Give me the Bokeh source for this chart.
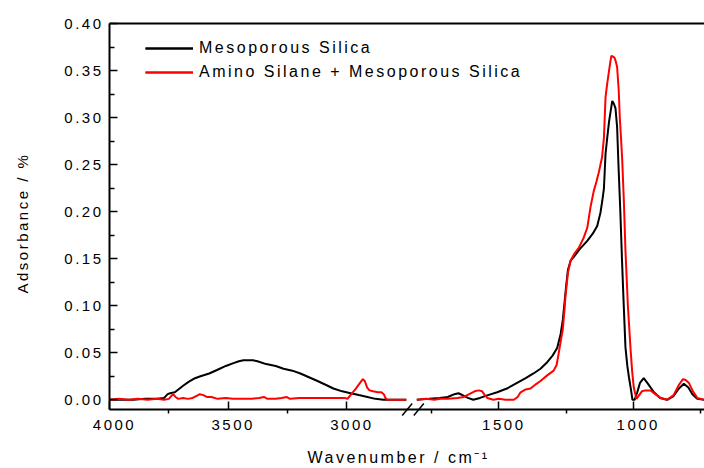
import math
from bokeh.plotting import figure
from bokeh.models import (Range1d, FixedTicker, CustomJSTickFormatter, LinearAxis, Legend,
                          LegendItem, Arrow, PrintfTickFormatter, InlineStyleSheet, Label)
from bokeh.embed import file_html
from bokeh.resources import INLINE

# ---------------- data (wavenumber cm-1, absorbance) ----------------
# Mesoporous Silica, high-wavenumber segment
ms_hi_wn = [4000, 3950, 3900, 3850, 3800, 3770, 3755, 3745, 3725, 3710, 3690, 3667, 3640, 3617,
            3580, 3545, 3510, 3478, 3455, 3436, 3415, 3395, 3377, 3340, 3300, 3267, 3230, 3196,
            3160, 3124, 3090, 3057, 3020, 2985, 2950, 2914, 2880, 2846, 2800, 2750]
ms_hi_abs = [0.000, 0.000, 0.000, 0.001, 0.001, 0.002, 0.006, 0.007, 0.008, 0.011, 0.015, 0.019,
             0.023, 0.025, 0.028, 0.032, 0.036, 0.039, 0.041, 0.042, 0.042, 0.042, 0.041, 0.038,
             0.036, 0.033, 0.031, 0.028, 0.024, 0.020, 0.016, 0.012, 0.009, 0.007, 0.005, 0.003,
             0.001, 0.000, 0.000, 0.000]
# Mesoporous Silica, low-wavenumber segment
ms_lo_wn = [1805, 1760, 1720, 1690, 1665, 1650, 1635, 1615, 1595, 1570, 1540, 1506, 1470, 1432,
            1400, 1371, 1345, 1320, 1300, 1283, 1270, 1262, 1255, 1250, 1243, 1233, 1221, 1200,
            1171, 1150, 1134, 1122, 1115, 1109, 1103, 1097, 1090, 1084, 1078, 1072, 1066, 1060,
            1055, 1048, 1042, 1036, 1029, 1022, 1016, 1008, 1003, 995, 985, 975, 961, 945, 923,
            900, 874, 850, 830, 812, 795, 780, 762, 735]
ms_lo_abs = [0.000, 0.001, 0.002, 0.003, 0.006, 0.007, 0.005, 0.002, 0.000, 0.002, 0.005, 0.008,
             0.012, 0.018, 0.023, 0.028, 0.033, 0.040, 0.047, 0.055, 0.070, 0.085, 0.105, 0.120,
             0.138, 0.148, 0.152, 0.160, 0.169, 0.177, 0.185, 0.199, 0.212, 0.225, 0.262, 0.278,
             0.296, 0.307, 0.318, 0.315, 0.310, 0.290, 0.250, 0.200, 0.150, 0.105, 0.056, 0.036,
             0.024, 0.010, 0.000, 0.000, 0.008, 0.018, 0.023, 0.017, 0.008, 0.002, 0.000, 0.004,
             0.012, 0.017, 0.013, 0.006, 0.001, 0.000]
# Amino Silane + Mesoporous Silica, high-wavenumber segment
am_hi_wn = [4000, 3960, 3920, 3880, 3840, 3800, 3770, 3750, 3740, 3732, 3722, 3710, 3690, 3670,
            3650, 3635, 3620, 3605, 3590, 3570, 3545, 3510, 3480, 3440, 3400, 3370, 3350, 3335,
            3300, 3275, 3255, 3240, 3200, 3150, 3100, 3050, 3010, 2998, 2985, 2965, 2945, 2933,
            2925, 2915, 2905, 2890, 2870, 2855, 2845, 2838, 2830, 2790, 2750]
am_hi_abs = [0.000, 0.001, 0.000, 0.001, 0.000, 0.001, 0.000, 0.001, 0.004, 0.006, 0.003, 0.001,
             0.002, 0.001, 0.002, 0.004, 0.006, 0.005, 0.003, 0.003, 0.001, 0.002, 0.001, 0.001,
             0.001, 0.002, 0.003, 0.001, 0.001, 0.002, 0.003, 0.001, 0.002, 0.002, 0.002, 0.002,
             0.002, 0.001, 0.005, 0.011, 0.018, 0.022, 0.020, 0.013, 0.010, 0.009, 0.008, 0.008,
             0.006, 0.002, 0.000, 0.000, 0.000]
# Amino Silane + Mesoporous Silica, low-wavenumber segment
am_lo_wn = [1805, 1770, 1740, 1717, 1690, 1654, 1630, 1610, 1590, 1575, 1562, 1552, 1543, 1520,
            1500, 1475, 1444, 1430, 1419, 1400, 1382, 1360, 1345, 1320, 1296, 1285, 1277, 1270,
            1262, 1256, 1252, 1243, 1233, 1220, 1202, 1185, 1171, 1159, 1147, 1137, 1128, 1116,
            1109, 1103, 1097, 1091, 1085, 1081, 1075, 1070, 1065, 1060, 1054, 1050, 1045, 1041,
            1035, 1029, 1020, 1010, 1004, 998, 988, 978, 968, 955, 936, 918, 898, 874, 850, 830,
            815, 805, 793, 778, 762, 735]
am_lo_abs = [0.000, 0.001, 0.000, 0.001, 0.001, 0.002, 0.003, 0.006, 0.009, 0.010, 0.009, 0.005,
             0.002, 0.000, 0.001, 0.000, 0.000, 0.003, 0.008, 0.011, 0.012, 0.017, 0.020, 0.026,
             0.031, 0.037, 0.050, 0.062, 0.075, 0.095, 0.110, 0.135, 0.148, 0.155, 0.162, 0.172,
             0.183, 0.205, 0.222, 0.232, 0.242, 0.258, 0.279, 0.322, 0.336, 0.348, 0.360, 0.366,
             0.365, 0.364, 0.360, 0.354, 0.329, 0.300, 0.276, 0.255, 0.212, 0.159, 0.100, 0.054,
             0.030, 0.013, 0.001, 0.005, 0.009, 0.010, 0.010, 0.006, 0.002, 0.000, 0.005, 0.016,
             0.022, 0.021, 0.018, 0.009, 0.002, 0.000]

series_labels = ["Mesoporous Silica", "Amino Silane + Mesoporous Silica"]
x_title = "Wavenumber / cm\u207b\u00b9"
y_title = "Adsorbance / %"
x_major = [4000, 3500, 3000, 1500, 1000]
x_minor = [3750, 3250, 1750, 1250, 750]
y_major = [0.00, 0.05, 0.10, 0.15, 0.20, 0.25, 0.30, 0.35, 0.40]
y_minor = [0.025, 0.075, 0.125, 0.175, 0.225, 0.275, 0.325, 0.375]

# ---------------- layout geometry (px) ----------------
W, H = 704, 468
AX_LEFT = 109.0          # px of the y axis line
AX_W = 595.0             # px width of the plotting box
TOP = 23.3               # px of the top line (value 0.40)
PX_PER_Y = 940.0         # px per absorbance unit
Y1 = 0.40
Y0 = Y1 - 385.2 / PX_PER_Y          # value at the x axis line


def px_u(px):
    return (px - AX_LEFT) / AX_W


def px_y(py):
    return Y1 - (py - TOP) / PX_PER_Y


# ---------------- broken x axis ----------------
LEFT_SEG = (4000.0, 2724.0)     # shown wavenumber span of left part
RIGHT_SEG = (1821.0, 735.0)     # shown wavenumber span of right part
SPLIT = 303.0 / AX_W            # fraction of the box taken by left part


def to_u(wn):
    if wn > 2200:
        return (LEFT_SEG[0] - wn) / (LEFT_SEG[0] - LEFT_SEG[1]) * SPLIT
    return SPLIT + (RIGHT_SEG[0] - wn) / (RIGHT_SEG[0] - RIGHT_SEG[1]) * (1 - SPLIT)


FONT = "Liberation Sans"

p = figure(width=W, height=H, x_range=Range1d(px_u(0), px_u(W)),
           y_range=Range1d(px_y(H), px_y(0)),
           output_backend="svg", toolbar_location=None,
           min_border_left=0, min_border_right=0, min_border_top=0, min_border_bottom=0)
p.grid.visible = False
p.outline_line_color = None
p.background_fill_color = "white"
p.border_fill_color = "white"
p.stylesheets = [InlineStyleSheet(css=":host { letter-spacing: 2.5px; }")]

b1 = p.line([to_u(w) for w in ms_hi_wn], ms_hi_abs, line_color="black", line_width=2)
b2 = p.line([to_u(w) for w in ms_lo_wn], ms_lo_abs, line_color="black", line_width=2)
r1 = p.line([to_u(w) for w in am_hi_wn], am_hi_abs, line_color="#ff0000", line_width=2)
r2 = p.line([to_u(w) for w in am_lo_wn], am_lo_abs, line_color="#ff0000", line_width=2)

xa = p.xaxis[0]
xa.fixed_location = Y0
xa.bounds = (0, 1)
xa.ticker = FixedTicker(ticks=[to_u(t) for t in x_major], minor_ticks=[to_u(t) for t in x_minor])
xa.formatter = CustomJSTickFormatter(
    args=dict(l0=LEFT_SEG[0], l1=LEFT_SEG[1], r0=RIGHT_SEG[0], r1=RIGHT_SEG[1], s=SPLIT),
    code="""
    let wn;
    if (tick <= s + 1e-9) { wn = l0 + (l1 - l0) * tick / s; }
    else { wn = r0 + (r1 - r0) * (tick - s) / (1 - s); }
    return String(Math.round(wn / 50) * 50);
    """)
ya = p.yaxis[0]
ya.fixed_location = 0
ya.bounds = (Y0, Y1)
ya.ticker = FixedTicker(ticks=y_major, minor_ticks=y_minor)
ya.formatter = PrintfTickFormatter(format="%.2f")

for ax in (xa, ya):
    ax.axis_line_width = 2
    ax.axis_line_color = "black"
    ax.major_tick_line_width = 1.5
    ax.minor_tick_line_width = 1.5
    ax.major_tick_in = 8
    ax.major_tick_out = 0
    ax.major_label_text_font = FONT
    ax.major_label_text_font_size = "15px"
    ax.major_label_text_color = "black"

xa.minor_tick_in = 0
xa.minor_tick_out = 4
xa.major_label_standoff = 7

ya.minor_tick_in = 5
ya.minor_tick_out = 0
ya.major_label_standoff = 16

top = LinearAxis(ticker=FixedTicker(ticks=[]), axis_line_width=2, axis_line_color="black",
                 major_tick_in=0, major_tick_out=0, minor_tick_in=0, minor_tick_out=0,
                 major_label_text_font_size="0px", fixed_location=Y1, bounds=(0, 1))
p.add_layout(top, "above")

# axis titles
p.add_layout(Label(x=px_u(307), y=px_y(457), text=x_title,
                   text_font=FONT, text_font_size="16px", text_color="black",
                   text_align="left", text_baseline="middle"))
p.add_layout(Label(x=px_u(21.7), y=px_y(293), text=y_title,
                   angle=math.pi / 2, text_font=FONT, text_font_size="15px", text_color="black",
                   text_align="left", text_baseline="middle"))

# axis break marks
for x0, x1 in ((401.7, 411.7), (413.3, 423.3)):
    p.add_layout(Arrow(end=None, x_start=px_u(x0), y_start=px_y(415),
                       x_end=px_u(x1), y_end=px_y(403),
                       line_color="black", line_width=1.5))

legend = Legend(items=[LegendItem(label=series_labels[0], renderers=[b1, b2]),
                       LegendItem(label=series_labels[1], renderers=[r1, r2])],
                location=(145, H - 36 - 48), border_line_color=None, background_fill_alpha=0,
                padding=0, margin=0, spacing=0, glyph_width=48, glyph_height=24,
                label_height=24, label_standoff=6, label_text_font=FONT,
                label_text_font_size="16px", label_text_color="black")
p.add_layout(legend)

open("out.html", "w").write(file_html(p, INLINE))
